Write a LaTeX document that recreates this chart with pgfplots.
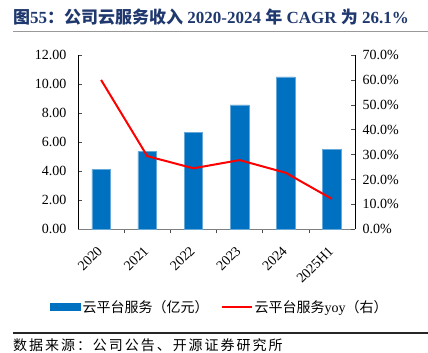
\documentclass[border=0pt]{standalone}
\usepackage{fontspec}
\setmainfont{Liberation Serif}
\newfontfamily\cjk{Noto Sans CJK SC}
\newfontfamily\cjkwide{Noto Sans CJK SC}[LetterSpace=14]
\usepackage{pgfplots}
\pgfplotsset{compat=1.18}
\definecolor{barblue}{RGB}{0,112,192}
\definecolor{titleblue}{RGB}{31,56,110}
\begin{document}
\begin{tikzpicture}
\useasboundingbox (0pt,0pt) rectangle (428pt,-353pt);
\node[anchor=west, text=titleblue, inner sep=0pt, font=\fontsize{17}{19}\selectfont\bfseries] at (13pt,-17pt) {{\cjk 图}55{\cjk ：公司云服务收入} 2020-2024 {\cjk 年} CAGR {\cjk 为} 26.1\%};
\draw[gray!80, line width=1pt] (13pt,-32pt) -- (428pt,-32pt);
\begin{axis}[
  scale only axis, width=277pt, height=174.3pt,
  at={(78pt,-229.3pt)}, anchor=south west,
  xmin=-0.5, xmax=5.5, ymin=0, ymax=12,
  axis y line*=left, axis x line*=bottom,
  xtick={0,...,5}, xticklabels={2020,2021,2022,2023,2024,2025H1},
  major x tick style={draw=none},
  minor xtick={0.5,1.5,2.5,3.5,4.5},
  ytick={0,2,...,12},
  tick align=inside,
  major tick length=3.5pt, minor tick length=4pt,
  tick style={black!70, line width=0.6pt},
  y axis line style={black, line width=0.8pt},
  x axis line style={gray, line width=1.2pt},
  /pgf/number format/assume math mode=true,
  /pgf/number format/fixed, /pgf/number format/fixed zerofill, /pgf/number format/precision=2,
  ticklabel style={font=\fontsize{14}{14}\selectfont},
  yticklabel style={xshift=-8pt},
  xticklabel style={rotate=45, anchor=east, inner sep=0pt, xshift=-12pt, yshift=-10.5pt},
  ybar, bar width=18.5pt,
]
\addplot[fill=barblue, draw=barblue!60, line width=0.4pt] coordinates {(0,4.13) (1,5.36) (2,6.69) (3,8.56) (4,10.50) (5,5.52)};
\end{axis}
\begin{axis}[
  scale only axis, width=277pt, height=174.3pt,
  at={(78pt,-229.3pt)}, anchor=south west,
  xmin=-0.5, xmax=5.5, ymin=0, ymax=70,
  axis y line*=right, axis x line=none,
  ytick={0,10,...,70},
  tick align=inside, major tick length=4pt,
  tick style={black!70, line width=0.6pt},
  y axis line style={black, line width=0.8pt},
  /pgf/number format/assume math mode=true,
  yticklabel={\pgfmathprintnumber[fixed,fixed zerofill,precision=1]{\tick}\%},
  ticklabel style={font=\fontsize{14}{14}\selectfont},
  yticklabel style={xshift=4pt},
  legend style={at={(0.512,-0.446)}, anchor=center, draw=none, fill=none,
    font=\fontsize{14}{16}\selectfont, inner sep=0pt,
    /tikz/every even column/.append style={column sep=10pt}},
  legend columns=2, legend cell align=left,
]
\addlegendimage{legend image code/.code={\fill[barblue] (0pt,-3.4pt) rectangle (30pt,3.4pt);}}
\addlegendentry{{\cjk 云平台服务（亿元）}}
\addplot[red, line width=2pt, mark=none, legend image code/.code={\draw[red, line width=2pt] (0pt,0pt) -- (30pt,0pt);}] coordinates {(0,60.0) (1,29.4) (2,24.5) (3,27.8) (4,22.7) (5,12.2)};
\addlegendentry{{\cjk 云平台服务}yoy{\cjk （右）}}
\end{axis}
\draw[black!85, line width=1.2pt] (13pt,-333pt) -- (428pt,-333pt);
\node[anchor=west, inner sep=0pt, font=\fontsize{14}{16}\selectfont] at (13pt,-345pt) {{\cjkwide 数据来源：公司公告、开源证券研究所}};
\end{tikzpicture}
\end{document}
